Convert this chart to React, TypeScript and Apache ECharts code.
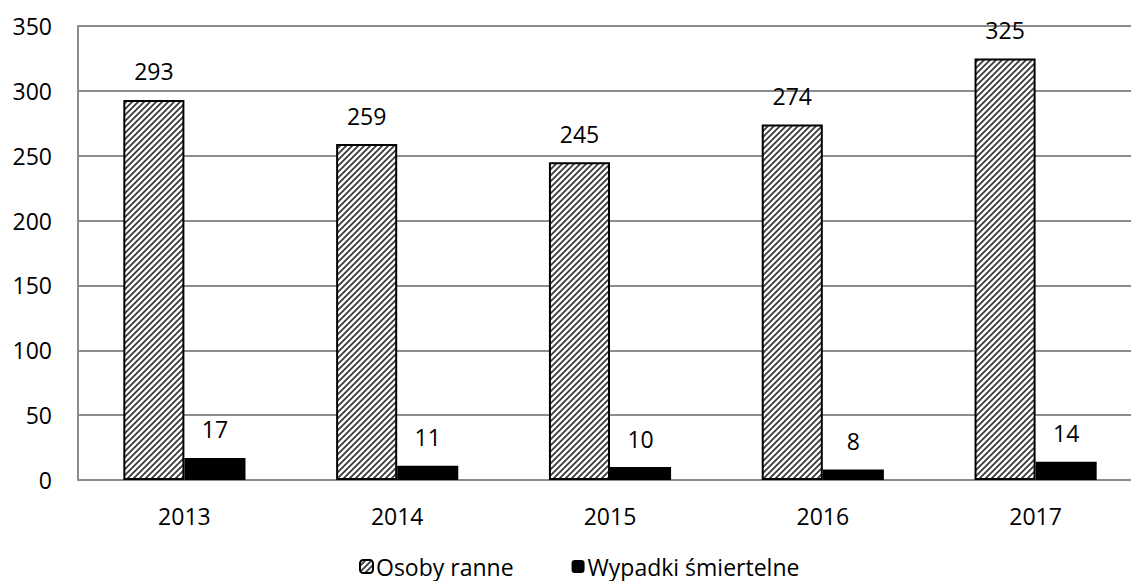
import React, { useEffect, useRef } from "react";
import * as echarts from "echarts";

const years = ["2013", "2014", "2015", "2016", "2017"];
const injured = [293, 259, 245, 274, 325];
const fatal = [17, 11, 10, 8, 14];
const seriesNames = ["Osoby ranne", "Wypadki śmiertelne"];
const yTicks = { min: 0, max: 350, interval: 50 };

const FONT = "'Open Sans', 'Noto Sans', sans-serif";

function makeStripes(): HTMLCanvasElement {
  const c = document.createElement("canvas");
  const s = 6;
  c.width = s;
  c.height = s;
  const ctx = c.getContext("2d")!;
  ctx.fillStyle = "#ffffff";
  ctx.fillRect(0, 0, s, s);
  ctx.strokeStyle = "#3a3a3a";
  ctx.lineWidth = 1.8;
  ctx.beginPath();
  ctx.moveTo(-1, s + 1);
  ctx.lineTo(s + 1, -1);
  ctx.moveTo(-1, 1);
  ctx.lineTo(1, -1);
  ctx.moveTo(s - 1, s + 1);
  ctx.lineTo(s + 1, s - 1);
  ctx.stroke();
  return c;
}

export default function App() {
  const ref = useRef<HTMLDivElement>(null);
  useEffect(() => {
    if (!ref.current) return;
    const chart = echarts.init(ref.current, null, { renderer: "svg" });
    const pattern = { image: makeStripes(), repeat: "repeat" };
    const labelStyle = {
      show: true,
      position: "top",
      distance: 17,
      color: "#000",
      fontSize: 23,
      fontFamily: FONT,
    };
    chart.setOption({
      animation: false,
      backgroundColor: "#ffffff",
      textStyle: { fontFamily: FONT },
      grid: { left: 78, top: 26, width: 1064, height: 454, containLabel: false },
      legend: {
        bottom: -2,
        left: 354,
        itemWidth: 13,
        itemHeight: 13,
        itemGap: 58,
        textStyle: { fontSize: 23, color: "#000", fontFamily: FONT, padding: [0, 0, 0, -2] },
        data: seriesNames,
      },
      xAxis: {
        type: "category",
        data: years,
        axisLine: { lineStyle: { color: "#8c8c8c", width: 2 } },
        axisTick: { show: false },
        axisLabel: { color: "#000", fontSize: 23, margin: 24, fontFamily: FONT },
      },
      yAxis: {
        type: "value",
        min: yTicks.min,
        max: yTicks.max,
        interval: yTicks.interval,
        axisLine: { show: true, lineStyle: { color: "#8c8c8c", width: 2 } },
        axisTick: { show: false },
        splitLine: { lineStyle: { color: "#8c8c8c", width: 2 } },
        axisLabel: { color: "#000", fontSize: 23, margin: 26, fontFamily: FONT },
      },
      series: [
        {
          name: seriesNames[0],
          type: "bar",
          data: injured,
          barGap: "0%",
          barCategoryGap: "42.6%",
          itemStyle: { color: pattern, borderColor: "#000", borderWidth: 2 },
          label: labelStyle,
        },
        {
          name: seriesNames[1],
          type: "bar",
          data: fatal,
          barGap: "0%",
          barCategoryGap: "42.6%",
          itemStyle: { color: "#000" },
          label: labelStyle,
        },
      ],
    });
    return () => chart.dispose();
  }, []);
  return (
    <div
      style={{ position: "fixed", left: 0, top: 0, width: 1131, height: 581, overflow: "hidden", background: "#fff" }}
    >
      <div ref={ref} style={{ width: 1146, height: 581 }} />
    </div>
  );
}
